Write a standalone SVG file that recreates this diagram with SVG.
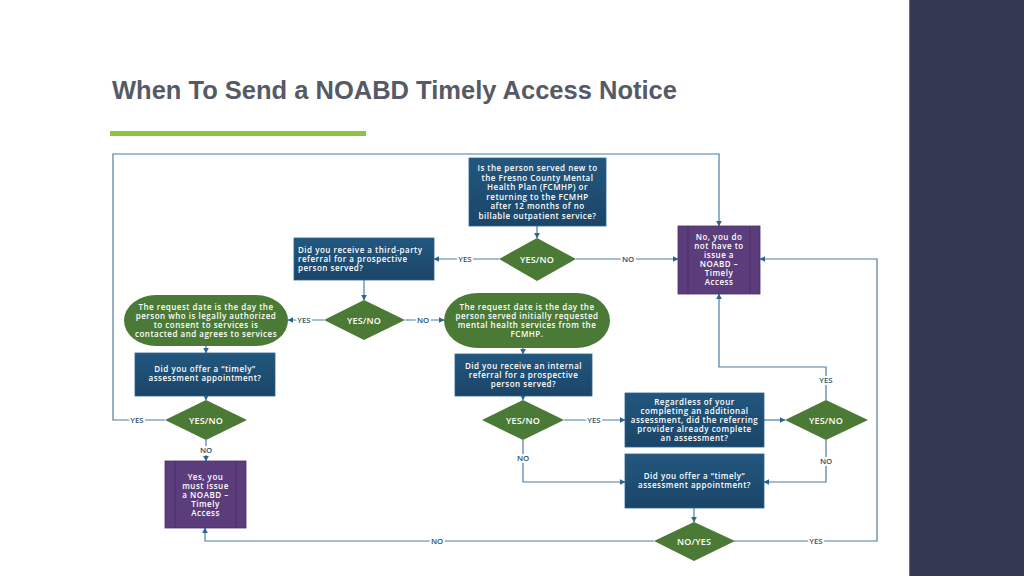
<svg xmlns="http://www.w3.org/2000/svg" width="1024" height="576" viewBox="0 0 1024 576">
<defs>
<linearGradient id="bg" x1="0" y1="0" x2="0" y2="1">
<stop offset="0" stop-color="#22577f"/><stop offset="1" stop-color="#1b4567"/>
</linearGradient>
<marker id="ah" viewBox="0 0 10 10" refX="9" refY="5" markerWidth="6" markerHeight="6" orient="auto" markerUnits="userSpaceOnUse">
<path d="M0,0 L10,5 L0,10 z" fill="#2a6590"/>
</marker>
<style>
.box{fill:url(#bg);stroke:#2a6590;stroke-width:0.8}
.grn{fill:#4b7a36}
.pur{fill:#5b3d7b;stroke:#4a2f68;stroke-width:0.8}
.pin{stroke:#4a2f68;stroke-width:1;fill:none}
.t{font-family:"Open Sans","Liberation Sans",sans-serif;font-weight:600;font-size:8px;letter-spacing:0.5px;fill:#ffffff;text-anchor:middle}
.tl{text-anchor:start}
.d{font-family:"Open Sans","Liberation Sans",sans-serif;font-weight:600;font-size:9px;letter-spacing:0.2px;fill:#ffffff;text-anchor:middle}
.c{fill:none;stroke:#4d7ca2;stroke-width:1.2}
.a{marker-end:url(#ah)}
.lb{font-family:"Open Sans","Liberation Sans",sans-serif;font-weight:600;font-size:7.8px;fill:#2d4f6e;text-anchor:middle;paint-order:stroke;stroke:#ffffff;stroke-width:4px}
</style>
</defs>
<rect width="1024" height="576" fill="#ffffff"/>
<rect x="910" y="0" width="114" height="576" fill="#333751"/>
<line x1="909.5" y1="0" x2="909.5" y2="576" stroke="#6b6f80" stroke-width="1"/>
<text x="112" y="99" font-family="Liberation Sans, Arial, sans-serif" font-weight="bold" font-size="25.5" fill="#555a66">When To Send a NOABD Timely Access Notice</text>
<rect x="110" y="131" width="256" height="5" fill="#8dc33f"/>

<g id="connectors">
<path class="c a" d="M537,226 V238"/>
<path class="c a" d="M499,259 H434"/>
<path class="c a" d="M576,259 H678"/>
<path class="c a" d="M364,280 V300"/>
<path class="c a" d="M324,320 H288"/>
<path class="c a" d="M405,320 H444"/>
<path class="c a" d="M206,346 V353"/>
<path class="c a" d="M206,396 V400"/>
<path class="c a" d="M206,440 V461"/>
<path class="c a" d="M165,420 H113 V154 H719 V226"/>
<path class="c a" d="M523,348 V354"/>
<path class="c a" d="M523,396 V400"/>
<path class="c a" d="M564,420 H625"/>
<path class="c a" d="M764,420 H785"/>
<path class="c a" d="M826,400 V367 H719 V294"/>
<path class="c a" d="M826,440 V482 H764"/>
<path class="c a" d="M523,440 V482 H625"/>
<path class="c a" d="M694,508 V522"/>
<path class="c a" d="M734,541 H877 V259 H760"/>
<path class="c a" d="M654,541 H205 V528"/>
<text class="lb" x="465" y="262">YES</text>
<text class="lb" x="628" y="262">NO</text>
<text class="lb" x="304" y="323">YES</text>
<text class="lb" x="423" y="323">NO</text>
<text class="lb" x="206" y="453">NO</text>
<text class="lb" x="137" y="423">YES</text>
<text class="lb" x="594" y="423">YES</text>
<text class="lb" x="826" y="383">YES</text>
<text class="lb" x="826" y="464">NO</text>
<text class="lb" x="523" y="461">NO</text>
<text class="lb" x="816" y="544">YES</text>
<text class="lb" x="437" y="544">NO</text>
</g>

<g id="q-new">
<rect class="box" x="469" y="158" width="137" height="68"/>
<text class="t" x="537.5" y="171">Is the person served new to</text>
<text class="t" x="537.5" y="180.5">the Fresno County Mental</text>
<text class="t" x="537.5" y="190">Health Plan (FCMHP) or</text>
<text class="t" x="537.5" y="199.5">returning to the FCMHP</text>
<text class="t" x="537.5" y="209">after 12 months of no</text>
<text class="t" x="537.5" y="218.5">billable outpatient service?</text>
</g>
<g id="d1">
<polygon class="grn" points="537,238 576,259 537,281 499,259"/>
<text class="d" x="537" y="262.5">YES/NO</text>
</g>
<g id="no-notice">
<rect class="pur" x="678" y="226" width="82" height="68"/>
<line class="pin" x1="688" y1="226" x2="688" y2="294"/>
<line class="pin" x1="750" y1="226" x2="750" y2="294"/>
<text class="t" x="719" y="240">No, you do</text>
<text class="t" x="719" y="249">not have to</text>
<text class="t" x="719" y="258">issue a</text>
<text class="t" x="719" y="267">NOABD –</text>
<text class="t" x="719" y="276">Timely</text>
<text class="t" x="719" y="285">Access</text>
</g>
<g id="q-third">
<rect class="box" x="294" y="238" width="140" height="42"/>
<text class="t tl" x="298" y="252.5">Did you receive a third-party</text>
<text class="t tl" x="298" y="261.5">referral for a prospective</text>
<text class="t tl" x="298" y="270.5">person served?</text>
</g>
<g id="d2">
<polygon class="grn" points="364,300 405,320 364,340 324,320"/>
<text class="d" x="364" y="323.5">YES/NO</text>
</g>
<g id="e-legal">
<rect class="grn" x="124" y="295" width="164" height="51" rx="32" ry="25.5"/>
<text class="t" x="206" y="310">The request date is the day the</text>
<text class="t" x="206" y="319">person who is legally authorized</text>
<text class="t" x="206" y="328">to consent to services is</text>
<text class="t" x="206" y="337">contacted and agrees to services</text>
</g>
<g id="e-served">
<rect class="grn" x="444" y="293" width="166" height="55" rx="34" ry="27.5"/>
<text class="t" x="527" y="310">The request date is the day the</text>
<text class="t" x="527" y="319">person served initially requested</text>
<text class="t" x="527" y="328">mental health services from the</text>
<text class="t" x="527" y="337">FCMHP.</text>
</g>
<g id="q-timely-1">
<rect class="box" x="135" y="353" width="140" height="43"/>
<text class="t" x="205" y="372">Did you offer a “timely”</text>
<text class="t" x="205" y="381">assessment appointment?</text>
</g>
<g id="d3">
<polygon class="grn" points="206,400 247,420 206,440 165,420"/>
<text class="d" x="206" y="423.5">YES/NO</text>
</g>
<g id="must-notice">
<rect class="pur" x="165" y="461" width="81" height="67"/>
<line class="pin" x1="175" y1="461" x2="175" y2="528"/>
<line class="pin" x1="236" y1="461" x2="236" y2="528"/>
<text class="t" x="205.5" y="479.5">Yes, you</text>
<text class="t" x="205.5" y="488.5">must issue</text>
<text class="t" x="205.5" y="497.5">a NOABD –</text>
<text class="t" x="205.5" y="506.5">Timely</text>
<text class="t" x="205.5" y="515.5">Access</text>
</g>
<g id="q-internal">
<rect class="box" x="455" y="354" width="137" height="42"/>
<text class="t" x="523.5" y="368.5">Did you receive an internal</text>
<text class="t" x="523.5" y="377.5">referral for a prospective</text>
<text class="t" x="523.5" y="386.5">person served?</text>
</g>
<g id="d4">
<polygon class="grn" points="523,400 564,420 523,440 482,420"/>
<text class="d" x="523" y="423.5">YES/NO</text>
</g>
<g id="q-regardless">
<rect class="box" x="625" y="393" width="139" height="54"/>
<text class="t" x="694.5" y="405">Regardless of your</text>
<text class="t" x="694.5" y="414">completing an additional</text>
<text class="t" x="694.5" y="423">assessment, did the referring</text>
<text class="t" x="694.5" y="432">provider already complete</text>
<text class="t" x="694.5" y="441">an assessment?</text>
</g>
<g id="d5">
<polygon class="grn" points="826,400 868,420 826,440 785,420"/>
<text class="d" x="826" y="423.5">YES/NO</text>
</g>
<g id="q-timely-2">
<rect class="box" x="625" y="454" width="139" height="54"/>
<text class="t" x="694.5" y="479">Did you offer a “timely”</text>
<text class="t" x="694.5" y="488">assessment appointment?</text>
</g>
<g id="d6">
<polygon class="grn" points="694,522 735,541 694,561 654,541"/>
<text class="d" x="694" y="544.5">NO/YES</text>
</g>
</svg>
